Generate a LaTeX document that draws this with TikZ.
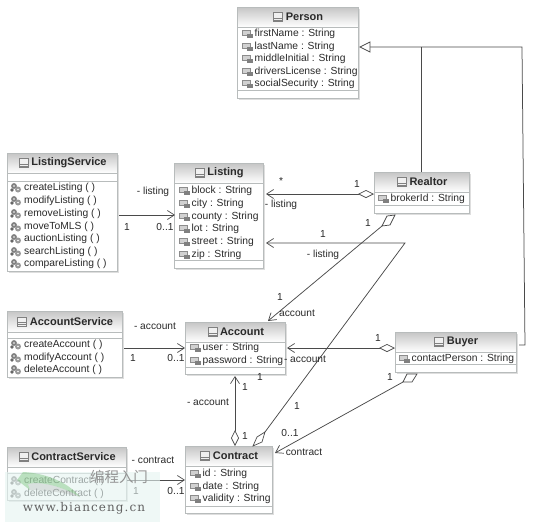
\documentclass[tikz,border=0pt]{standalone}
\usepackage{fontspec}
\setmainfont{Liberation Sans}
\newfontfamily\cjkwm{Noto Sans CJK SC}
\newfontfamily\wmserif[LetterSpace=9]{DejaVu Serif}
\usetikzlibrary{arrows.meta}
\definecolor{boxline}{HTML}{B8BCBC}
\definecolor{ink}{HTML}{2A2A2A}
\definecolor{wire}{HTML}{4A4A4A}
\definecolor{wmbg}{HTML}{E6F5F2}
\tikzset{
  x=1pt,y=-1pt,
  classbox/.style={draw=boxline,line width=.8pt,fill=white,inner sep=0pt,outer sep=0pt,anchor=north west},
  classtitle/.style={font=\fontsize{11}{12}\selectfont\bfseries,text=ink,inner sep=0pt},
  member/.style={font=\fontsize{10.3}{12}\selectfont,text=ink,inner sep=0pt,anchor=west},
  lbl/.style={font=\fontsize{10.2}{11}\selectfont,text=ink,inner sep=0pt},
  wirel/.style={draw=wire,line width=.75pt},
  assoc/.style={wirel,-{Straight Barb[length=7pt,width=9pt,line width=.7pt]}},
  aggr/.style={wirel,{Diamond[open,length=16pt,width=8pt,line width=.7pt,fill=white]}-{Straight Barb[length=7pt,width=9pt,line width=.7pt]}},
  skewd/.style={draw=wire,line width=.7pt,fill=white},
}
\newcommand{\umlbox}[8]{%
  \pgfmathsetmacro{\bw}{#4-#2}\pgfmathsetmacro{\bh}{#5-#3}%
  \fill[black!13] (#2+1.5,#3+1.5) rectangle (#4+1.5,#5+1.5);
  \node[classbox,minimum width=\bw pt,minimum height=\bh pt] (#1) at (#2,#3) {};
  \shade[top color=black!22,bottom color=white] (#2+.5,#3+.5) rectangle (#4-.5,#6);
  \draw[boxline,line width=.6pt] (#2,#6) -- (#4,#6);
  \draw[boxline,line width=.6pt] (#2,#7) -- (#4,#7);
  \draw[boxline,line width=.8pt] (#2,#3) rectangle (#4,#5);
  \pgfmathsetmacro{\cx}{(#2+#4)/2+7}\pgfmathsetmacro{\cy}{(#3+#6)/2}%
  \node[classtitle] (#1-title) at (\cx,\cy) {#8};
  \begin{scope}[shift={(#1-title.west)}]
    \draw[black!50,line width=.5pt,fill=black!6] (-12,-4.5) rectangle (-3,4.5);
    \draw[black!50,line width=.5pt] (-12,1) -- (-3,1) (-12,3) -- (-3,3);
  \end{scope}
}
\newcommand{\attr}[4]{% name, x, y, text
  \begin{scope}[shift={(#2,#3)}]
    \fill[black!18] (0,-3.5) rectangle (8,1);
    \draw[black!45,line width=.4pt] (0,-3.5) rectangle (8,1);
    \fill[black!50] (5,-.5) rectangle (10.5,3.5);
  \end{scope}
  \node[member] (#1) at (#2+12.5,#3) {#4};
}
\newcommand{\oper}[4]{% name, x, y, text
  \begin{scope}[shift={(#2,#3)}]
    \fill[black!50] (3,-2) circle (2.9pt);
    \fill[black!40] (7,1.5) circle (3pt);
    \fill[black!60] (1,2) circle (1.8pt);
    \fill[white] (3,-2) circle (.8pt) (7,1.5) circle (.9pt);
  \end{scope}
  \node[member] (#1) at (#2+13,#3) {#4};
}
\begin{document}
\begin{tikzpicture}
\useasboundingbox (0,0) rectangle (542,528);
\fill[white] (0,0) rectangle (542,528);

% ---- classes
\umlbox{person}{237}{7}{358}{98}{27}{90}{Person}
\attr{person-a1}{242}{34}{firstName : String}
\attr{person-a2}{242}{47}{lastName : String}
\attr{person-a3}{242}{59}{middleInitial : String}
\attr{person-a4}{242}{72}{driversLicense : String}
\attr{person-a5}{242}{84}{socialSecurity : String}

\umlbox{listingservice}{7}{153}{117}{271}{173}{181}{ListingService}
\oper{ls-o1}{11}{188}{createListing ( )}
\oper{ls-o2}{11}{201}{modifyListing ( )}
\oper{ls-o3}{11}{214}{removeListing ( )}
\oper{ls-o4}{11}{227}{moveToMLS ( )}
\oper{ls-o5}{11}{239}{auctionListing ( )}
\oper{ls-o6}{11}{252}{searchListing ( )}
\oper{ls-o7}{11}{264}{compareListing ( )}

\umlbox{listing}{174}{163}{263}{268}{183}{260}{Listing}
\attr{l-a1}{179}{191}{block : String}
\attr{l-a2}{179}{204}{city : String}
\attr{l-a3}{179}{217}{county : String}
\attr{l-a4}{179}{229}{lot : String}
\attr{l-a5}{179}{242}{street : String}
\attr{l-a6}{179}{255}{zip : String}

\umlbox{realtor}{374}{172}{469}{213}{192}{205}{Realtor}
\attr{r-a1}{378}{199}{brokerId : String}

\umlbox{accountservice}{7}{311}{122}{377}{332}{338}{AccountService}
\oper{as-o1}{11}{345}{createAccount ( )}
\oper{as-o2}{11}{358}{modifyAccount ( )}
\oper{as-o3}{11}{370}{deleteAccount ( )}

\umlbox{account}{185}{322}{285}{374}{342}{367}{Account}
\attr{a-a1}{190}{348}{user : String}
\attr{a-a2}{190}{361}{password : String}

\umlbox{buyer}{395}{332}{516}{372}{352}{364}{Buyer}
\attr{b-a1}{399}{359}{contactPerson : String}

\umlbox{contractservice}{7}{447}{126}{500}{467}{473}{ContractService}
\oper{cs-o1}{11}{481}{createContract ( )}
\oper{cs-o2}{11}{494}{deleteContract ( )}

\umlbox{contract}{185}{446}{272}{513}{466}{506}{Contract}
\attr{c-a1}{190}{474}{id : String}
\attr{c-a2}{190}{487}{date : String}
\attr{c-a3}{190}{499}{validity : String}

% ---- anchors of the connectors
\coordinate (genjoin) at (421,47);
\coordinate (gencorner) at (522,47);
\coordinate (gentip) at (360,47);
\coordinate (genbase) at (370,47);
\coordinate (buyerout) at (519,345);
\coordinate (buyercorner) at (525,345);
\coordinate (bend) at (405,243);
\coordinate (rdtip) at (382,226);
\coordinate (cdtip) at (265,432);
\coordinate (bdtip) at (403,382);

% ---- generalisation
\draw[wirel] (buyerout) -- (buyercorner) -- (gencorner) -- (genbase);
\draw[wirel] (realtor.north -| genjoin) -- (genjoin);
\draw[wirel,fill=white] (gentip) -- (genbase |- 0,42) -- (genbase |- 0,52) -- cycle;

% ---- associations
\draw[assoc] ([xshift=2pt]listingservice.east |- 0,215) -- ([xshift=1pt]listing.west |- 0,215);
\draw[assoc] ([xshift=2pt]accountservice.east |- 0,348) -- (account.west |- 0,348);
\draw[assoc] ([xshift=1pt]contractservice.east |- 0,480) -- (contract.west |- 0,480);
\draw[aggr] (realtor.west |- 0,194) -- ([xshift=3pt]listing.east |- 0,194);
\draw[aggr] (buyer.west |- 0,348) -- ([xshift=2pt]account.east |- 0,348);
\draw[aggr] (contract.north -| 235,0) -- ([yshift=-2pt]account.south -| 235,0);
\draw[assoc] (cdtip) -- (bend) -- ([xshift=3pt]listing.east |- bend);
\draw[assoc] (rdtip) -- ([yshift=1pt]account.north -| 268,0);
\draw[assoc] (bdtip) -- ([xshift=3pt]contract.east |- 0,453);

% ---- skewed aggregation diamonds
\draw[skewd] (395,215) -- (387,216) -- (382,226) -- (390,225) -- cycle;
\draw[skewd] (265,432) -- (257,437) -- (253,446) -- (262,442) -- cycle;
\draw[skewd] (417,374) -- (407,374) -- (403,382) -- (412,382) -- cycle;

% ---- labels
\node[lbl] (l1) at (281,181) {*};
\node[lbl] (l2) at (357,184) {1};
\node[lbl] (l3) at (281,205) {- listing};
\node[lbl] (l4) at (323,234) {1};
\node[lbl] (l5) at (323,255) {- listing};
\node[lbl] (l6) at (368,223) {1};
\node[lbl] (l7) at (280,297) {1};
\node[lbl] (l8) at (297,313) {account};
\node[lbl] (l9) at (378,338) {1};
\node[lbl] (l10) at (305,359) {- account};
\node[lbl] (l11) at (390,377) {1};
\node[lbl] (l12) at (297,406) {1};
\node[lbl] (l13) at (290,433) {0..1};
\node[lbl] (l14) at (304,452) {contract};
\node[lbl] (l15) at (153,192) {- listing};
\node[lbl] (l16) at (127,227) {1};
\node[lbl] (l17) at (165,227) {0..1};
\node[lbl] (l18) at (155,326) {- account};
\node[lbl] (l19) at (133,358) {1};
\node[lbl] (l20) at (176,358) {0..1};
\node[lbl] (l21) at (260,377) {1};
\node[lbl] (l22) at (245,387) {1};
\node[lbl] (l23) at (245,436) {1};
\node[lbl] (l24) at (208,402) {- account};
\node[lbl] (l25) at (153,460) {- contract};
\node[lbl] (l26) at (136,491) {1};
\node[lbl] (l27) at (176,491) {0..1};

% ---- watermark
\fill[wmbg,opacity=.62] (5,472) rectangle (160,522);
\fill[green!55!black!60,opacity=.38] (17,480) -- (23,472) .. controls (45,473) and (68,482) .. (80,497) .. controls (62,486) and (40,481) .. (28,484) -- (30,490) -- cycle;
\fill[black!40,opacity=.25] (28,484) .. controls (40,481) and (62,486) .. (80,497) .. controls (62,492) and (42,490) .. (30,490) -- cycle;
\node[font=\cjkwm\fontsize{14.5}{16}\selectfont,text=black!42,inner sep=0pt] (wm1) at (119,477) {编程入门};
\node[font=\wmserif\fontsize{12}{13}\selectfont,text=black!62,inner sep=0pt] (wm2) at (84,508) {www.bianceng.cn};
\end{tikzpicture}
\end{document}
